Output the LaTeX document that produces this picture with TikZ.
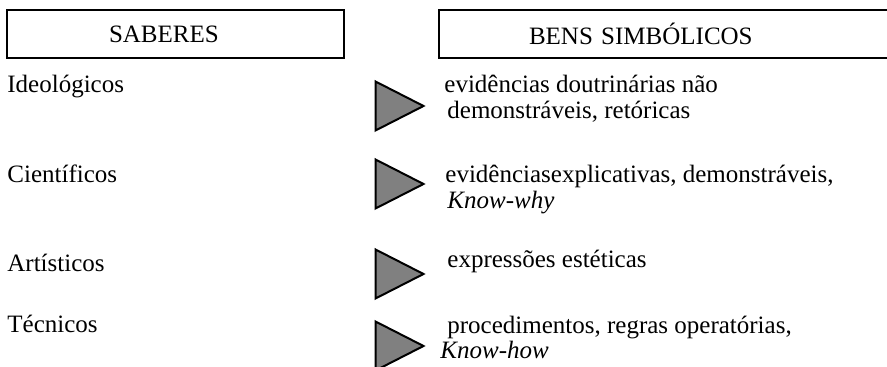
\documentclass[tikz,border=0pt]{standalone}
\usepackage{fontspec}
\setmainfont{Liberation Serif}
\usetikzlibrary{shapes.geometric}
\tikzstyle{header} = [rectangle, anchor=west, minimum height=24pt, draw=black, line width=1pt, inner ysep=0pt, align=left, font=\fontsize{12.5}{14}\selectfont]
\tikzstyle{saber} = [anchor=base west, inner sep=0pt, font=\fontsize{12.5}{13}\selectfont]
\tikzstyle{bem} = [anchor=base west, inner sep=0pt, align=left, font=\fontsize{12.5}{13}\selectfont]
\tikzstyle{seta} = [isosceles triangle, isosceles triangle stretches, minimum width=24.5pt, minimum height=24pt, inner sep=0pt, draw=black, line width=1pt, fill=black!50]

\begin{document}
\begin{tikzpicture}[x=0.5pt, y=-0.5pt]
\useasboundingbox (0,0) rectangle (887,367);

\node (sab) [header, inner xsep=51pt, text width=66.5pt] at (6,34) {SABERES};
\node (bens) [header, inner xsep=45pt, text width=141pt] at (438,34) {BENS SIMBÓLICOS};

\node (l1) [saber] at (7,93) {Ideológicos};
\node (l2) [saber] at (7,183) {Científicos};
\node (l3) [saber] at (7,272) {Artísticos};
\node (l4) [saber] at (7,333) {Técnicos};

\node (t1) [seta] at (390.5,106) {};
\node (t2) [seta] at (390.5,184) {};
\node (t3) [seta] at (390.5,274) {};
\node (t4) [seta] at (390.5,346) {};

\node (r1) [bem] at (444,119) {evidências doutrinárias não\\\hspace*{1.5pt}demonstráveis, retóricas};
\node (r2) [bem] at (445,209) {evidênciasexplicativas, demonstráveis,\\\hspace*{1pt}\textit{Know-why}};
\node (r3) [bem] at (447,268) {expressões estéticas};
\node (r4) [bem] at (447,359) {procedimentos, regras operatórias,\\\hspace*{-3.5pt}\textit{Know-how}};

\end{tikzpicture}
\end{document}
